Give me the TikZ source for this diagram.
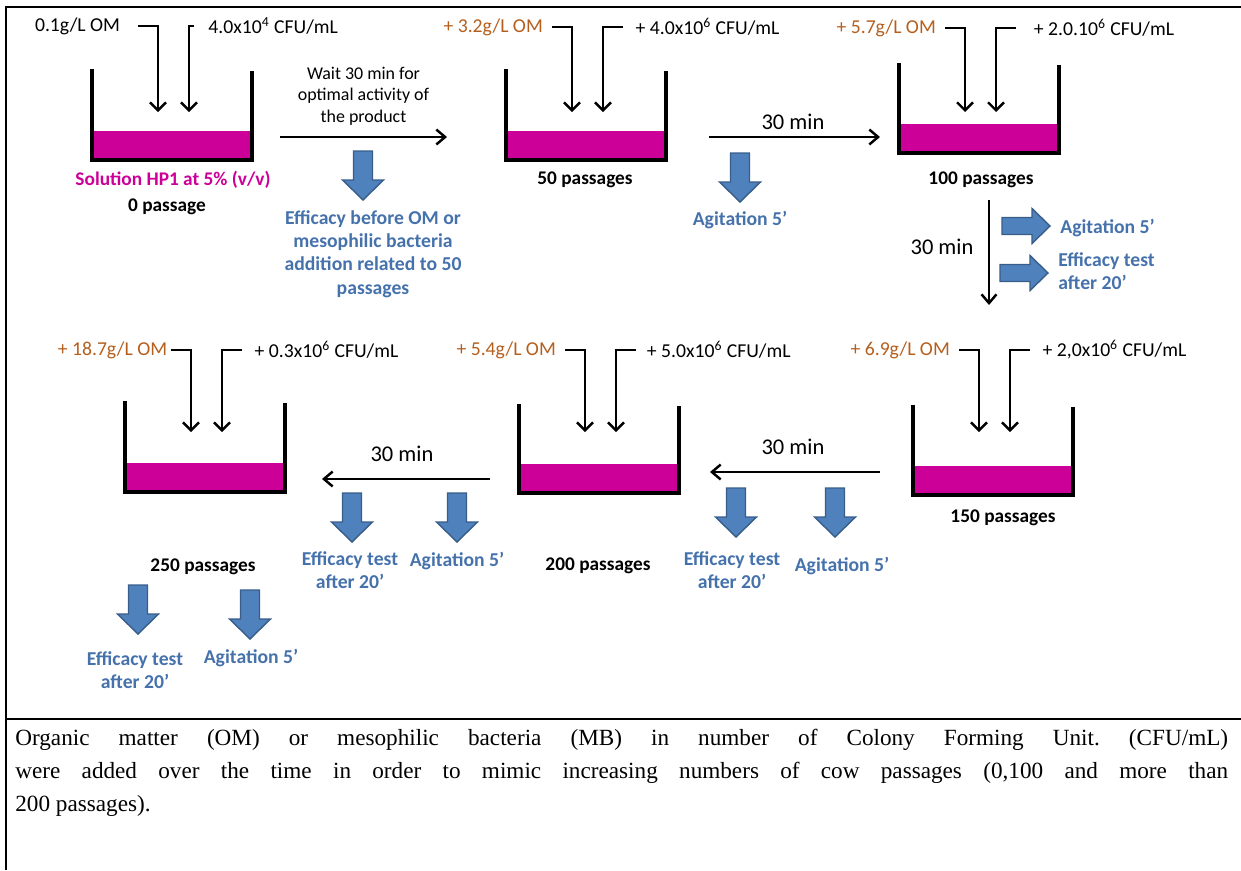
\documentclass[tikz,border=0pt]{standalone}
\usepackage{fontspec}
\setmainfont{Carlito}
\newfontfamily\notefont{Liberation Serif}
\usetikzlibrary{arrows.meta,positioning}

\definecolor{liquid}{RGB}{204,0,153}
\definecolor{omBrown}{RGB}{181,95,30}
\definecolor{effBlue}{RGB}{70,114,172}
\definecolor{arrowFill}{RGB}{79,129,189}
\definecolor{arrowLine}{RGB}{56,93,138}

\tikzset{
  wall/.style={line width=2.3pt,line join=miter},
  feed/.style={line width=1.4pt,-{Straight Barb[length=4.5pt,width=9pt]}},
  flow/.style={line width=1.4pt,-{Straight Barb[length=5pt,width=8.5pt]}},
  addtxt/.style={font=\fontsize{11.2}{13}\selectfont,inner sep=0pt},
  omtxt/.style={addtxt,text=omBrown},
  passtxt/.style={font=\fontsize{11}{13}\selectfont\bfseries,inner sep=0pt},
  actiontxt/.style={font=\fontsize{11.2}{13.3}\selectfont\bfseries,text=effBlue,align=center,inner sep=0pt},
  timetxt/.style={font=\fontsize{12.8}{15}\selectfont,inner sep=0pt},
  blockarrow/.style={fill=arrowFill,draw=arrowLine,line width=0.8pt,line join=miter},
  blockdown/.pic={\path[blockarrow] (-9.5,0) -- (9.5,0) -- (9.5,29) -- (20.5,29) -- (0,49) -- (-20.5,29) -- (-9.5,29) -- cycle;},
  blockright/.pic={\path[blockarrow] (0,-8.5) -- (30,-8.5) -- (30,-17.5) -- (48,0) -- (30,17.5) -- (30,8.5) -- (0,8.5) -- cycle;}
}

\begin{document}
\begin{tikzpicture}[x=0.02cm,y=-0.02cm]
    \useasboundingbox (0,0) rectangle (1241,870);
    % frame
    \draw[line width=1.4pt] (5,7) -- (1241,7);
    \draw[line width=1.1pt] (6,7) -- (6,870);
    \draw[line width=1.4pt] (6,719) -- (1241,719);

    % vessels and feeding arrows
    \foreach \n/\bx/\by/\bb/\ly/\ty/\sl in {1/92/69/160/26/112/5, 2/506/69/160/27/112/20, 3/899/63/153/28/112/20,
      4/125/401/492/350/432/20, 5/519/404/493/350/432/20, 6/913/405/495/350/432/20}
    {
      \fill[liquid] (\bx+2,\bb-2) rectangle (\bx+158,\bb-29);
      \draw[wall] (\bx,\by) |- (\bx+160,\bb) -- (\bx+160,\by+2);
      \coordinate (oms\n) at (\bx+46,\ly);
      \coordinate (om\n) at (\bx+66,\ty);
      \coordinate (mbs\n) at (\bx+97+\sl,\ly);
      \coordinate (mb\n) at (\bx+97,\ty);
      \draw[feed] (oms\n) -| (om\n);
      \draw[feed] (mbs\n) -| (mb\n);
    }

    % additions
    \node[addtxt,left=10pt of oms1] (omlab1) {0.1g/L OM};
    \node[addtxt,right=8pt of mbs1] (mblab1) {4.0x10\textsuperscript{4} CFU/mL};
    \node[omtxt,left=5pt of oms2] (omlab2) {+ 3.2g/L OM};
    \node[addtxt,right=7pt of mbs2] (mblab2) {+ 4.0x10\textsuperscript{6} CFU/mL};
    \node[omtxt,left=5pt of oms3] (omlab3) {+ 5.7g/L OM};
    \node[addtxt,right=10pt of mbs3] (mblab3) {+ 2.0.10\textsuperscript{6} CFU/mL};
    \node[omtxt,left=2pt of oms4] (omlab4) {+ 18.7g/L OM};
    \node[addtxt,right=7pt of mbs4] (mblab4) {+ 0.3x10\textsuperscript{6} CFU/mL};
    \node[omtxt,left=5pt of oms5] (omlab5) {+ 5.4g/L OM};
    \node[addtxt,right=6pt of mbs5] (mblab5) {+ 5.0x10\textsuperscript{6} CFU/mL};
    \node[omtxt,left=5pt of oms6] (omlab6) {+ 6.9g/L OM};
    \node[addtxt,right=7pt of mbs6] (mblab6) {+ 2,0x10\textsuperscript{6} CFU/mL};

    % passages
    \node[passtxt,text=liquid] (sol) at (173,180) {Solution HP1 at 5\% (v/v)};
    \node[passtxt] (p0) at (167,207) {0 passage};
    \node[passtxt] (p50) at (585,180) {50 passages};
    \node[passtxt] (p100) at (981,180) {100 passages};
    \node[passtxt] (p150) at (1003,518) {150 passages};
    \node[passtxt] (p200) at (598,566) {200 passages};
    \node[passtxt] (p250) at (203,567) {250 passages};

    % 0 -> 50
    \coordinate (f1a) at (280,137);
    \coordinate (f1b) at (447,137);
    \draw[flow] (f1a) -- (f1b) node[midway,above=6pt,inner sep=0pt,align=center,
      font=\fontsize{10.2}{12.2}\selectfont] (wait) {Wait 30 min for\\optimal activity of\\the product};
    \pic at (363,151) {blockdown};
    \node[actiontxt,anchor=north] (eff0) at (373,210) {Efficacy before OM or\\mesophilic bacteria\\addition related to 50\\passages};

    % 50 -> 100
    \coordinate (f2a) at (709,137);
    \coordinate (f2b) at (880,137);
    \draw[flow] (f2a) -- (f2b);
    \node[timetxt] (t2) at (793,122) {30 min};
    \pic at (740,153) {blockdown};
    \node[actiontxt] (ag2) at (740,220) {Agitation 5'};

    % 100 -> 150
    \coordinate (f3a) at (989,200);
    \coordinate (f3b) at (989,305);
    \draw[flow] (f3a) -- (f3b);
    \node[timetxt] (t3) at (942,247) {30 min};
    \pic at (1002,226) {blockright};
    \pic at (1000,273) {blockright};
    \node[actiontxt,anchor=west] (ag3) at (1060,228) {Agitation 5'};
    \node[actiontxt,anchor=west,align=left] (ef3) at (1058,271) {Efficacy test\\after 20'};

    % 150 -> 200
    \coordinate (f4a) at (880,472);
    \coordinate (f4b) at (710,472);
    \draw[flow] (f4a) -- (f4b);
    \node[timetxt] (t4) at (793,447) {30 min};
    \pic at (736,488) {blockdown};
    \pic at (835,488) {blockdown};
    \node[actiontxt] (ef4) at (732,570) {Efficacy test\\after 20'};
    \node[actiontxt] (ag4) at (842,566) {Agitation 5'};

    % 200 -> 250
    \coordinate (f5a) at (490,479);
    \coordinate (f5b) at (322,479);
    \draw[flow] (f5a) -- (f5b);
    \node[timetxt] (t5) at (402,454) {30 min};
    \pic at (352,493) {blockdown};
    \pic at (457,493) {blockdown};
    \node[actiontxt] (ef5) at (350,570) {Efficacy test\\after 20'};
    \node[actiontxt] (ag5) at (457,561) {Agitation 5'};

    % after 250
    \pic at (138,585) {blockdown};
    \pic at (250,590) {blockdown};
    \node[actiontxt] (ef6) at (135,670) {Efficacy test\\after 20'};
    \node[actiontxt] (ag6) at (251,658) {Agitation 5'};

    % note
    \node[anchor=north west,inner sep=0pt,text width=24.26cm,align=justify,
      font=\notefont\fontsize{13.2}{18.7}\selectfont\frenchspacing] (note) at (15,729)
      {Organic matter (OM) or mesophilic bacteria (MB) in number of Colony Forming Unit. (CFU/mL)\linebreak
       were added over the time in order to mimic increasing numbers of cow passages (0,100 and more than\linebreak
       200 passages).};
\end{tikzpicture}
\end{document}
